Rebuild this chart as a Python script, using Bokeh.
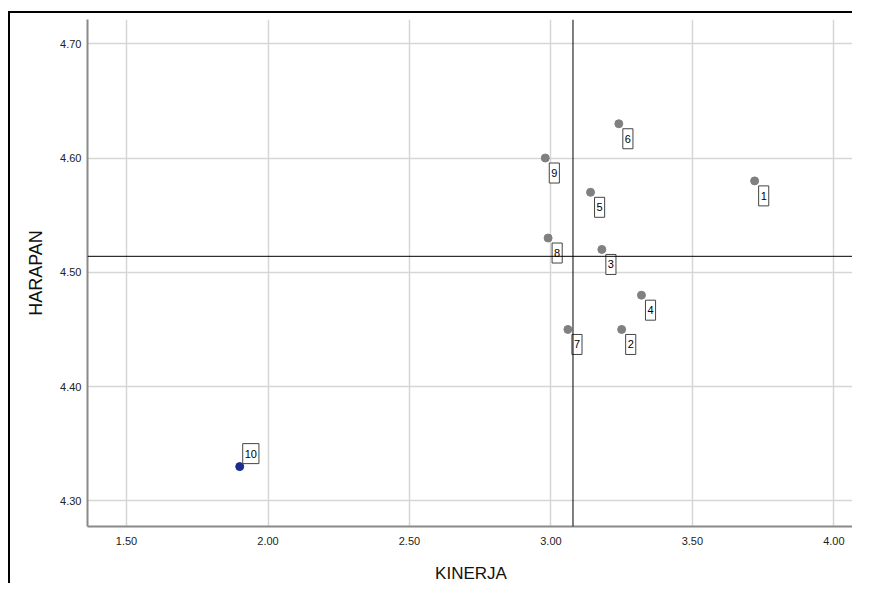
from bokeh.plotting import figure
from bokeh.models import ColumnDataSource, Range1d, FixedTicker, PrintfTickFormatter, Span
from bokeh.core.properties import value
from bokeh.embed import file_html
from bokeh.resources import INLINE

# ---- data ----
labels = ["1", "2", "3", "4", "5", "6", "7", "8", "9", "10"]
kinerja = [3.72, 3.25, 3.18, 3.32, 3.14, 3.24, 3.06, 2.99, 2.98, 1.90]
harapan = [4.58, 4.45, 4.52, 4.48, 4.57, 4.63, 4.45, 4.53, 4.60, 4.33]
x_ticks = [1.50, 2.00, 2.50, 3.00, 3.50, 4.00]
y_ticks = [4.30, 4.40, 4.50, 4.60, 4.70]
highlighted = ["10"]

mean_x = sum(kinerja) / len(kinerja)
mean_y = sum(harapan) / len(harapan)

FONT = "Liberation Sans"

p = figure(width=844, height=572, output_backend="svg", toolbar_location=None,
           x_range=Range1d(1.362, 4.073), y_range=Range1d(4.2776, 4.7212),
           min_border_left=77, min_border_right=0, min_border_top=6, min_border_bottom=57)
# outer frame of the exported chart (top and left edges visible)
p.styles = {"margin-left": "8px", "margin-top": "11px",
            "border-left": "2px solid black", "border-top": "2px solid black"}
p.outline_line_color = None
p.background_fill_color = "white"
p.border_fill_color = "white"

for ax in (p.xaxis, p.yaxis):
    ax.axis_line_color = "#8a8a8a"
    ax.axis_line_width = 2
    ax.major_tick_in = 0
    ax.major_tick_out = 0
    ax.minor_tick_in = 0
    ax.minor_tick_out = 0
    ax.major_label_text_font = FONT
    ax.major_label_text_font_size = "11px"
    ax.major_label_text_color = "#222222"
    ax.axis_label_text_font = FONT
    ax.axis_label_text_font_style = "normal"
    ax.axis_label_text_color = "#111111"
    ax.formatter = PrintfTickFormatter(format="%.2f")

p.xaxis.axis_label_text_font_size = "17px"
p.yaxis.axis_label_text_font_size = "18px"
p.xaxis.ticker = FixedTicker(ticks=x_ticks)
p.yaxis.ticker = FixedTicker(ticks=y_ticks)
p.xaxis.axis_label = "KINERJA"
p.yaxis.axis_label = "HARAPAN"
p.xaxis.major_label_standoff = 10
p.yaxis.major_label_standoff = 6
p.xaxis.axis_label_standoff = 16
p.yaxis.axis_label_standoff = 11

for g in (p.xgrid, p.ygrid):
    g.grid_line_color = "#d6d6d6"
    g.grid_line_width = 1.5

p.add_layout(Span(location=mean_x, dimension="height", line_color="black", line_width=1))
p.add_layout(Span(location=mean_y, dimension="width", line_color="black", line_width=1))

idx_main = [i for i, l in enumerate(labels) if l not in highlighted]
idx_hi = [i for i, l in enumerate(labels) if l in highlighted]

src_main = ColumnDataSource(dict(x=[kinerja[i] for i in idx_main], y=[harapan[i] for i in idx_main],
                                 t=[labels[i] for i in idx_main]))
src_hi = ColumnDataSource(dict(x=[kinerja[i] for i in idx_hi], y=[harapan[i] for i in idx_hi],
                               t=[labels[i] for i in idx_hi]))

p.scatter("x", "y", source=src_main, size=8, color="#808080")
p.scatter("x", "y", source=src_hi, size=8, color="#1a2d8c")

common = dict(text="t", text_font=value(FONT), text_font_size="11px", text_color="black",
              text_align="left", text_baseline="top",
              background_fill_color="white", border_line_color="#444444", border_line_width=1,
              padding=(2, 6))
p.text("x", "y", source=src_main, x_offset=4, y_offset=5, anchor="top_left", **common)
p.text("x", "y", source=src_hi, x_offset=3, y_offset=-23, anchor="top_left", **common)

open("out.html", "w").write(file_html(p, INLINE))
